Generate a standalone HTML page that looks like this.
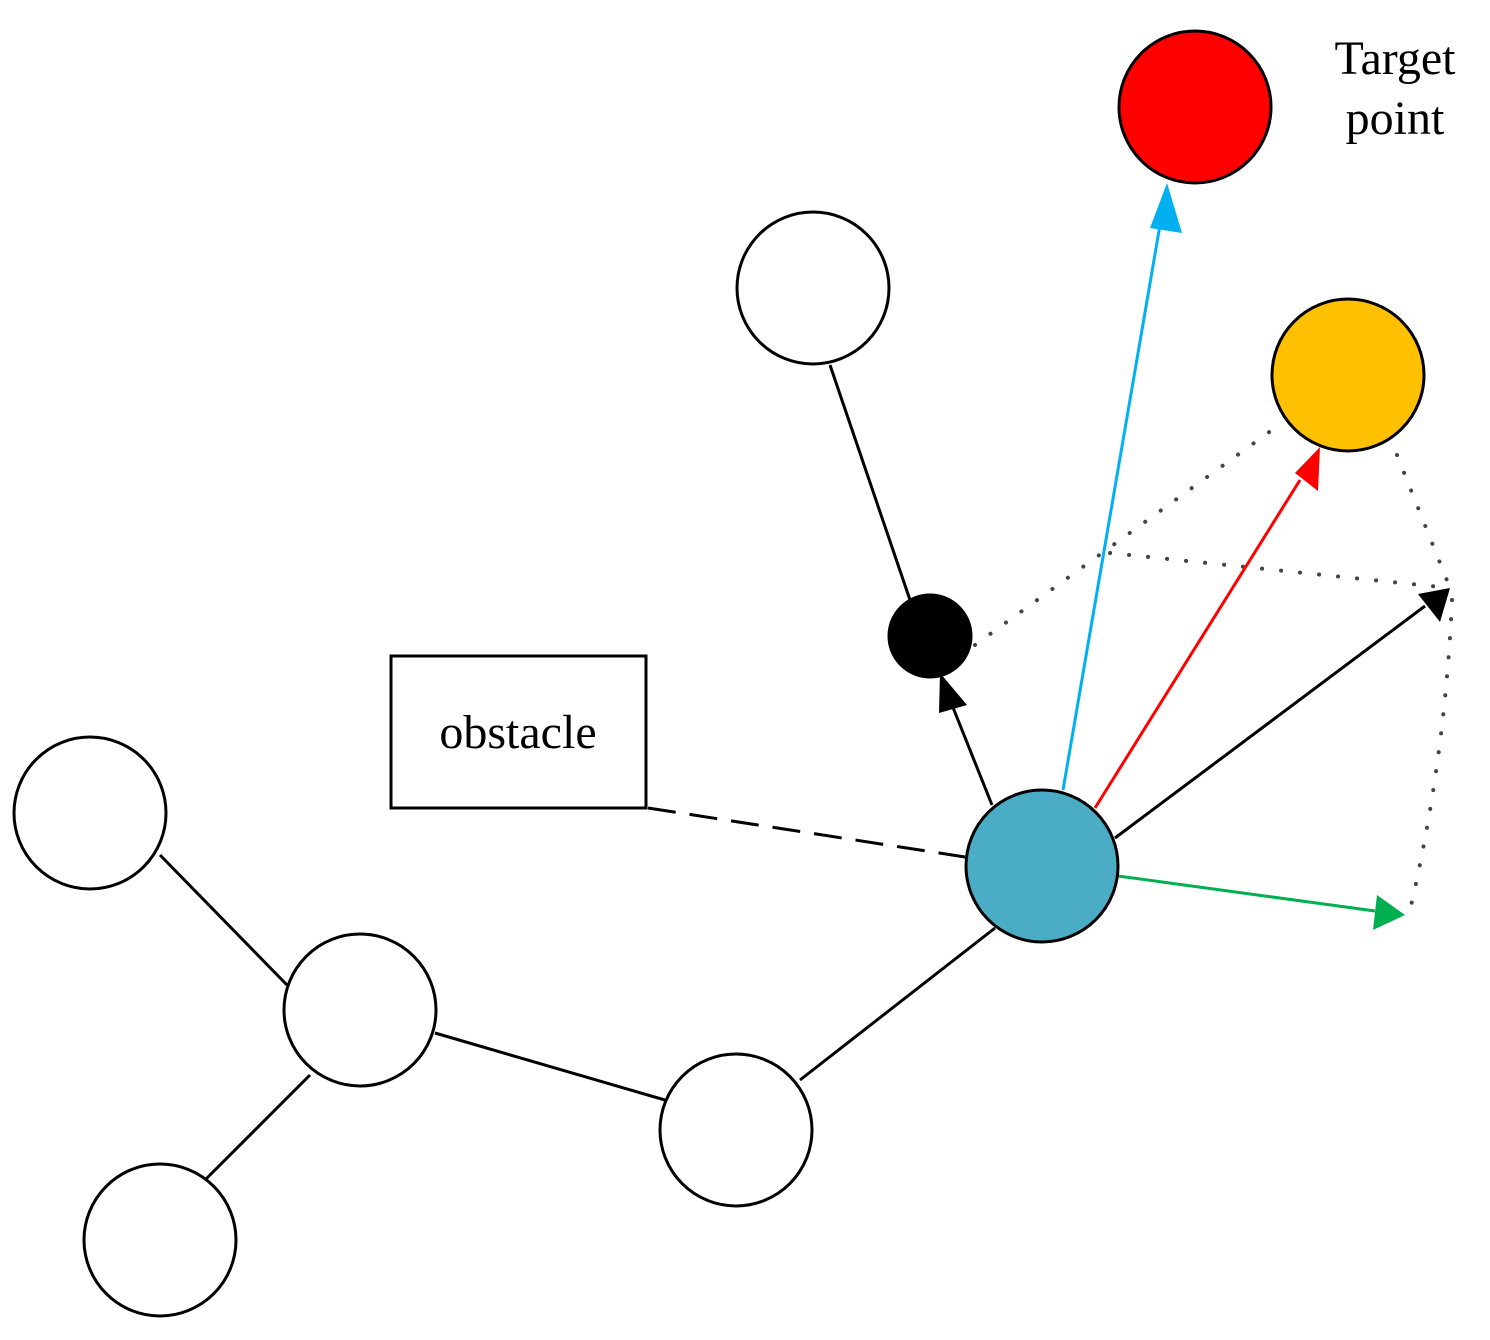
<!DOCTYPE html>
<html><head><style>body{margin:0;background:#fff}</style></head><body>
<svg width="1490" height="1335" xmlns="http://www.w3.org/2000/svg">
<g stroke="#000" stroke-width="3" fill="none">
<line x1="830" y1="365" x2="910" y2="600"/>
<line x1="995" y1="928" x2="800" y2="1080"/>
<line x1="435" y1="1033" x2="665" y2="1100"/>
<line x1="160" y1="855" x2="287" y2="985"/>
<line x1="310" y1="1075" x2="205" y2="1180"/>
<line x1="648" y1="808" x2="965" y2="857" stroke-dasharray="28,14"/>
</g>
<g stroke="#444" stroke-width="4" stroke-dasharray="0.1,19" stroke-linecap="round" fill="none">
<line x1="975" y1="645" x2="1272" y2="430"/>
<line x1="1110" y1="553" x2="1450" y2="588"/>
<line x1="1397" y1="455" x2="1450" y2="588"/>
<path d="M1452,600 Q1445,760 1410,910"/>
</g>
<line x1="1063" y1="790" x2="1160" y2="225" stroke="#00b0f0" stroke-width="3"/>
<polygon points="1167,183 1182,233 1150,228" fill="#00b0f0"/>
<line x1="1095" y1="808" x2="1300" y2="480" stroke="#ff0000" stroke-width="3"/>
<polygon points="1320,447 1318,491 1295,473" fill="#ff0000"/>
<line x1="1115" y1="838" x2="1425" y2="606" stroke="#000" stroke-width="3"/>
<polygon points="1450,588 1440,622 1418,594" fill="#000"/>
<line x1="1118" y1="876" x2="1375" y2="911" stroke="#00b050" stroke-width="3"/>
<polygon points="1405,915 1373,930 1377,895" fill="#00b050"/>
<line x1="992" y1="805" x2="948" y2="695" stroke="#000" stroke-width="3"/>
<polygon points="940,673 967,705 939,713" fill="#000"/>
<g stroke="#000" stroke-width="3">
<circle cx="1195" cy="107" r="76" fill="#ff0000"/>
<circle cx="1348" cy="375" r="76" fill="#ffc000"/>
<circle cx="813" cy="288" r="76" fill="#fff"/>
<circle cx="930" cy="636" r="41" fill="#000"/>
<circle cx="1042" cy="866" r="76" fill="#4bacc6"/>
<circle cx="90" cy="813" r="76" fill="#fff"/>
<circle cx="360" cy="1010" r="76" fill="#fff"/>
<circle cx="160" cy="1240" r="76" fill="#fff"/>
<circle cx="736" cy="1130" r="76" fill="#fff"/>
<rect x="391" y="656" width="255" height="152" fill="#fff"/>
</g>
<g font-family="Liberation Serif, serif" font-size="48" fill="#000" text-anchor="middle">
<text x="518" y="748">obstacle</text>
<text x="1395" y="74">Target</text>
<text x="1395" y="134">point</text>
</g>
</svg>
</body></html>
